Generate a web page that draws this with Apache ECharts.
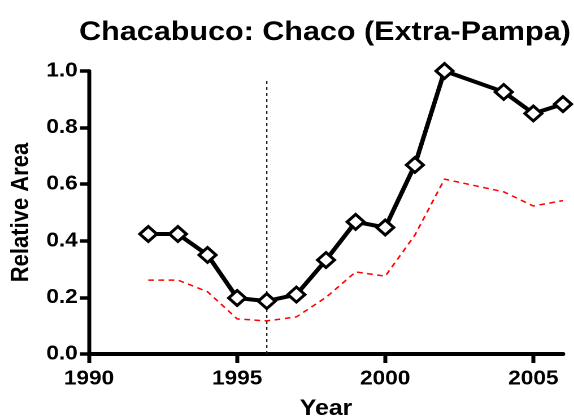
<!DOCTYPE html>
<html>
<head>
<meta charset="utf-8">
<script src="https://cdn.jsdelivr.net/npm/echarts@6/dist/echarts.min.js"></script>
<style>
html,body{margin:0;padding:0;background:#fff;overflow:hidden;}
#main{width:508px;height:420px;transform:scaleX(1.13);transform-origin:0 0;}
</style>
</head>
<body>
<div id="main"></div>
<script>
const years = [1992, 1993, 1994, 1995, 1996, 1997, 1998, 1999, 2000, 2001, 2002, 2004, 2005, 2006];
const relativeArea = [0.424, 0.424, 0.35, 0.198, 0.187, 0.21, 0.332, 0.467, 0.447, 0.668, 1.0, 0.926, 0.85, 0.883];
const referenceLine = [0.261, 0.261, 0.22, 0.124, 0.117, 0.131, 0.2, 0.29, 0.275, 0.42, 0.618, 0.573, 0.523, 0.542];
const markerYear = 1996;
const markerSpan = [0, 0.975];
const xTicks = [1990, 1995, 2000, 2005];

const FONT = "'Liberation Sans', Arial, sans-serif";
const chart = echarts.init(document.getElementById('main'), null, {renderer: 'canvas', devicePixelRatio: 2});
chart.setOption({
  animation: false,
  backgroundColor: '#fff',
  title: {
    text: 'Chacabuco: Chaco (Extra-Pampa)',
    left: 287.6, top: 19, textAlign: 'center', padding: 0,
    textStyle: {fontFamily: FONT, fontWeight: 'bold', fontSize: 27, color: '#000'}
  },
  grid: {left: 78.8, right: 9.8, top: 71, bottom: 66, containLabel: false, outerBoundsMode: 'none'},
  xAxis: {
    type: 'value', min: 1990, max: 2006, interval: 5,
    name: 'Year', nameLocation: 'middle', nameGap: 44,
    nameTextStyle: {fontFamily: FONT, fontWeight: 'bold', fontSize: 22, color: '#000'},
    axisLine: {lineStyle: {color: '#000', width: 4}},
    axisTick: {show: true, length: 9, lineStyle: {color: '#000', width: 3.5}, customValues: xTicks},
    axisLabel: {margin: 15, fontFamily: FONT, fontWeight: 'bold', fontSize: 20, color: '#000',
      customValues: xTicks, formatter: v => String(v)},
    splitLine: {show: false}
  },
  yAxis: {
    type: 'value', min: 0, max: 1, interval: 0.2,
    name: 'Relative Area', nameLocation: 'middle', nameGap: 49, nameRotate: 90,
    nameTextStyle: {fontFamily: FONT, fontWeight: 'bold', fontSize: 22, color: '#000'},
    axisLine: {show: true, lineStyle: {color: '#000', width: 3.5}},
    axisTick: {show: true, length: 8, lineStyle: {color: '#000', width: 3.5}},
    axisLabel: {margin: 10, fontFamily: FONT, fontWeight: 'bold', fontSize: 20, color: '#000',
      formatter: v => v.toFixed(1)},
    splitLine: {show: false}
  },
  series: [
    {
      type: 'line', data: [[markerYear, markerSpan[0]], [markerYear, markerSpan[1]]],
      symbol: 'none', lineStyle: {color: '#222', width: 1.2, type: [3, 3]}, z: 1
    },
    {
      type: 'line', data: years.map((y, i) => [y, referenceLine[i]]),
      symbol: 'none', lineStyle: {color: '#ff0000', width: 1.5, type: [5, 4]}, z: 2
    },
    {
      type: 'line', data: years.map((y, i) => [y, relativeArea[i]]),
      symbol: 'diamond', symbolSize: 15, showAllSymbol: true,
      lineStyle: {color: '#000', width: 4},
      itemStyle: {color: '#fff', borderColor: '#000', borderWidth: 2.8}, z: 3
    }
  ]
});
</script>
</body>
</html>
